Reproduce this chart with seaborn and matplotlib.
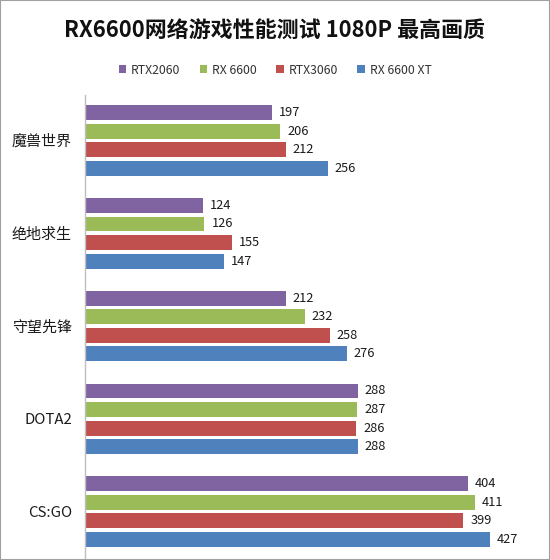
import matplotlib
matplotlib.use("Agg")
import matplotlib.pyplot as plt
import seaborn as sns
import pandas as pd
from matplotlib.patches import Rectangle, Patch

games = ['魔兽世界', '绝地求生', '守望先锋', 'DOTA2', 'CS:GO']
cards = ['RTX2060', 'RX 6600', 'RTX3060', 'RX 6600 XT']
rtx2060 = [197, 124, 212, 288, 404]
rx6600 = [206, 126, 232, 287, 411]
rtx3060 = [212, 155, 258, 286, 399]
rx6600xt = [256, 147, 276, 288, 427]
colors = ['#8064A2', '#9BBB59', '#C0504D', '#4F81BD']

series = [rtx2060, rx6600, rtx3060, rx6600xt]
rows = []
for card, vals in zip(cards, series):
    for g, v in zip(games, vals):
        rows.append({'game': g, 'card': card, 'value': v})
df = pd.DataFrame(rows)

sns.set_theme(style='white')
plt.rcParams['font.family'] = ['Noto Sans CJK SC', 'DejaVu Sans']

W, H = 550, 560
fig = plt.figure(figsize=(W / 100, H / 100), dpi=100)
ax = fig.add_axes([85 / W, 2 / H, (540 - 85) / W, (558 - 95) / H])

sns.barplot(data=df, y='game', x='value', hue='card', order=games, hue_order=cards,
            palette=colors, orient='h', width=0.8, gap=0.2, ax=ax, legend=False,
            saturation=1, edgecolor='none')

for cont in ax.containers:
    ax.bar_label(cont, padding=5, fontsize=9.2, color='#1a1a1a')

ax.set_xlim(0, 480)
ax.set_ylim(4.5, -0.49)
ax.set_xlabel('')
ax.set_ylabel('')
ax.set_xticks([])
for s in ['top', 'right', 'bottom']:
    ax.spines[s].set_visible(False)
ax.spines['left'].set_color('#BFBFBF')
ax.spines['left'].set_linewidth(1)
ax.tick_params(axis='y', length=0, pad=9.5, labelsize=10.8, colors='#1a1a1a')

fig.text(0.5, 1 - 31 / H, 'RX6600网络游戏性能测试 1080P 最高画质', ha='center', va='center',
         fontsize=15.8, fontweight='bold', color='#111111')

handles = [Patch(facecolor=c, edgecolor='none', label=l) for c, l in zip(colors, cards)]
fig.legend(handles=handles, loc='center', bbox_to_anchor=(0.5, 1 - 70 / H), ncol=4,
           frameon=False, fontsize=8.8, handlelength=0.6, handleheight=0.6,
           handletextpad=0.4, columnspacing=1.6, labelcolor='#333333')

fig.patches.append(Rectangle((0, 0), 1, 1, transform=fig.transFigure, fill=False,
                             edgecolor='#A0A0A0', linewidth=1.5))

fig.savefig('out.png', dpi=100)
